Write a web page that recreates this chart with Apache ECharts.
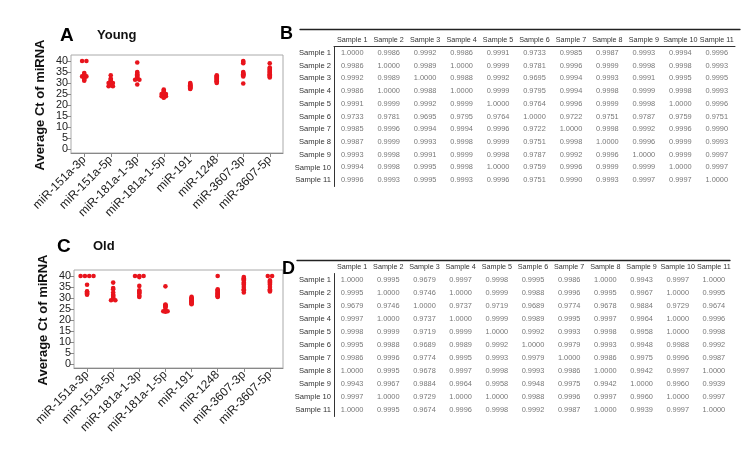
<!DOCTYPE html>
<html><head><meta charset="utf-8">
<script src="https://cdn.jsdelivr.net/npm/echarts@6/dist/echarts.min.js"></script>
<style>html,body{margin:0;padding:0;background:#fff}#c{width:750px;height:455px}</style>
</head><body><div id="c"></div><script>
// ---------- data ----------
const mirnas = ['miR-151a-3p','miR-151a-5p','miR-181a-1-3p','miR-181a-1-5p','miR-191','miR-1248','miR-3607-3p','miR-3607-5p'];
const sampleNames = ['Sample 1','Sample 2','Sample 3','Sample 4','Sample 5','Sample 6','Sample 7','Sample 8','Sample 9','Sample 10','Sample 11'];
// Average Ct per miRNA (11 samples each), young group
const youngCt = [
  [40, 40, 34.5, 34, 33.5, 33, 33, 32.5, 32, 31.5, 31],
  [33.5, 32, 31.5, 31, 30.5, 30, 30, 29.5, 29, 28.5, 28.5],
  [39.3, 35, 34.5, 34, 33.5, 33, 32.5, 32, 31.5, 31.5, 29.3],
  [27, 26.5, 26, 25.5, 25, 25, 24.5, 24, 24, 23.5, 23.3],
  [30, 29.5, 29.2, 29, 28.8, 28.5, 28.2, 28, 27.8, 27.5, 27.3],
  [33.5, 33, 32.8, 32.5, 32, 31.8, 31.5, 31, 30.8, 30.5, 30],
  [40, 39.5, 39, 35, 34.5, 34.2, 34, 33.8, 33.5, 33, 29.8],
  [39, 37, 36.5, 36, 35.5, 35, 34.5, 34, 33.5, 33, 32.5]
];
// Average Ct per miRNA (11 samples each), old group
const oldCt = [
  [40, 40, 40, 40, 36, 33, 32.8, 32.5, 32, 31.8, 31.5],
  [37, 34.5, 34, 32.5, 31.5, 31, 30.5, 30, 29.5, 29, 29],
  [40, 40, 40, 39.5, 35.5, 33.5, 33, 32.5, 32, 31, 30.5],
  [35.3, 27, 26.8, 26.5, 26.2, 26, 25.5, 24.2, 24, 24, 23.8],
  [30.5, 30, 29.8, 29.5, 29, 28.8, 28.5, 28.2, 28, 27.5, 27.2],
  [40, 34, 33.5, 33, 32.5, 32, 31.8, 31.5, 31, 30.8, 30.5],
  [39.5, 39, 38.5, 38, 37, 36.5, 36, 35, 34, 33.5, 32.5],
  [40, 40, 38, 37.5, 37, 36.5, 36, 35, 34, 33.5, 33]
];
// correlation matrix, young (B)
const youngCorr = [
  [1.0000,0.9986,0.9992,0.9986,0.9991,0.9733,0.9985,0.9987,0.9993,0.9994,0.9996],
  [0.9986,1.0000,0.9989,1.0000,0.9999,0.9781,0.9996,0.9999,0.9998,0.9998,0.9993],
  [0.9992,0.9989,1.0000,0.9988,0.9992,0.9695,0.9994,0.9993,0.9991,0.9995,0.9995],
  [0.9986,1.0000,0.9988,1.0000,0.9999,0.9795,0.9994,0.9998,0.9999,0.9998,0.9993],
  [0.9991,0.9999,0.9992,0.9999,1.0000,0.9764,0.9996,0.9999,0.9998,1.0000,0.9996],
  [0.9733,0.9781,0.9695,0.9795,0.9764,1.0000,0.9722,0.9751,0.9787,0.9759,0.9751],
  [0.9985,0.9996,0.9994,0.9994,0.9996,0.9722,1.0000,0.9998,0.9992,0.9996,0.9990],
  [0.9987,0.9999,0.9993,0.9998,0.9999,0.9751,0.9998,1.0000,0.9996,0.9999,0.9993],
  [0.9993,0.9998,0.9991,0.9999,0.9998,0.9787,0.9992,0.9996,1.0000,0.9999,0.9997],
  [0.9994,0.9998,0.9995,0.9998,1.0000,0.9759,0.9996,0.9999,0.9999,1.0000,0.9997],
  [0.9996,0.9993,0.9995,0.9993,0.9996,0.9751,0.9990,0.9993,0.9997,0.9997,1.0000]
];
// correlation matrix, old (D)
const oldCorr = [
  [1.0000,0.9995,0.9679,0.9997,0.9998,0.9995,0.9986,1.0000,0.9943,0.9997,1.0000],
  [0.9995,1.0000,0.9746,1.0000,0.9999,0.9988,0.9996,0.9995,0.9967,1.0000,0.9995],
  [0.9679,0.9746,1.0000,0.9737,0.9719,0.9689,0.9774,0.9678,0.9884,0.9729,0.9674],
  [0.9997,1.0000,0.9737,1.0000,0.9999,0.9989,0.9995,0.9997,0.9964,1.0000,0.9996],
  [0.9998,0.9999,0.9719,0.9999,1.0000,0.9992,0.9993,0.9998,0.9958,1.0000,0.9998],
  [0.9995,0.9988,0.9689,0.9989,0.9992,1.0000,0.9979,0.9993,0.9948,0.9988,0.9992],
  [0.9986,0.9996,0.9774,0.9995,0.9993,0.9979,1.0000,0.9986,0.9975,0.9996,0.9987],
  [1.0000,0.9995,0.9678,0.9997,0.9998,0.9993,0.9986,1.0000,0.9942,0.9997,1.0000],
  [0.9943,0.9967,0.9884,0.9964,0.9958,0.9948,0.9975,0.9942,1.0000,0.9960,0.9939],
  [0.9997,1.0000,0.9729,1.0000,1.0000,0.9988,0.9996,0.9997,0.9960,1.0000,0.9997],
  [1.0000,0.9995,0.9674,0.9996,0.9998,0.9992,0.9987,1.0000,0.9939,0.9997,1.0000]
];

// ---------- styling / layout ----------
const SANS = "'Liberation Sans', Arial, sans-serif";
const NARROW = "'Liberation Sans Narrow', 'Arial Narrow', 'Liberation Sans', Arial, sans-serif";
const RED = '#e8141c';
const DOT_GAP = 4.3;
const TXT = '#555';

function dots(ct) {
  const out = [];
  ct.forEach((vals, ci) => {
    const counts = {}, seen = {};
    vals.forEach(v => counts[v] = (counts[v] || 0) + 1);
    vals.forEach(v => {
      const n = counts[v], k = seen[v] || 0; seen[v] = k + 1;
      out.push({ value: [ci, v], symbolOffset: [(k - (n - 1) / 2) * DOT_GAP, 0] });
    });
  });
  return out;
}
function cells(m) {
  const out = [];
  m.forEach((row, r) => row.forEach((v, c) => out.push([c, r, v])));
  return out;
}

// plot frames: frame box extends 6px above 40 and 4px below 0 (88px for 0..40)
function plotGrids(left, top, width) {
  const pxPerUnit = 88 / 40;
  return {
    frame: { left, top, width, height: 98, show: true, borderColor: '#aaa', borderWidth: 1, outerBoundsMode: 'none' },
    inner: { left, top: top + 6, width, height: 88, outerBoundsMode: 'none' },
    yMin: -4 / pxPerUnit, yMax: 40 + 6 / pxPerUnit
  };
}
const pA = plotGrids(71, 55, 212);
const pC = plotGrids(74, 270, 209);

const hidden = (gi, type) => ({ gridIndex: gi, type: type || 'value', show: false });
function catX(gi) {
  return {
    gridIndex: gi, type: 'category', data: mirnas, position: 'bottom',
    axisLine: { show: true, onZero: false, lineStyle: { color: '#888' } },
    axisTick: { show: true, alignWithLabel: true, length: 4, lineStyle: { color: '#888' } },
    axisLabel: { rotate: 45, fontSize: 12, color: '#222', fontFamily: SANS, margin: 5, interval: 0 },
    splitLine: { show: false }
  };
}
function frameY(gi, p) { return { gridIndex: gi, type: 'value', show: false, min: p.yMin, max: p.yMax }; }
function labelY(gi) {
  return {
    gridIndex: gi, type: 'value', min: 0, max: 40, interval: 5,
    axisLine: { show: false },
    axisTick: { show: true, length: 4, lineStyle: { color: '#888' } },
    axisLabel: { fontSize: 10.8, color: '#222', fontFamily: SANS, margin: 3,
      showMinLabel: true, showMaxLabel: true, hideOverlap: false },
    splitLine: { show: false },
    name: 'Average Ct of miRNA', nameLocation: 'middle', nameRotate: 90, nameGap: 24,
    nameTextStyle: { fontSize: 13, fontWeight: 'bold', color: '#111', fontFamily: SANS }
  };
}
function ruleX(gi) {
  return { gridIndex: gi, type: 'value', position: 'top',
    axisLine: { show: true, onZero: false, lineStyle: { color: '#222', width: 1.3 } },
    axisTick: { show: false }, axisLabel: { show: false }, splitLine: { show: false } };
}
function tableX(gi, underline) {
  return { gridIndex: gi, type: 'category', data: sampleNames, position: 'top',
    axisLine: { show: underline, lineStyle: { color: '#333', width: 1 } },
    axisTick: { show: false },
    axisLabel: { fontSize: 7.2, color: '#333', fontFamily: NARROW, margin: 3, interval: 0, hideOverlap: false },
    splitLine: { show: false } };
}
function tableY(gi) {
  return { gridIndex: gi, type: 'category', data: sampleNames, inverse: true,
    axisLine: { show: true, lineStyle: { color: '#333', width: 1 } },
    axisTick: { show: false },
    axisLabel: { fontSize: 7.6, color: '#333', fontFamily: NARROW, margin: 3, interval: 0, hideOverlap: false },
    splitLine: { show: false } };
}
function tableSeries(xi, yi, m) {
  return { type: 'scatter', xAxisIndex: xi, yAxisIndex: yi, symbolSize: 0, silent: true,
    data: cells(m),
    label: { show: true, position: 'inside', fontSize: 7.4, color: TXT, fontFamily: NARROW,
      formatter: p => p.value[2].toFixed(4) } };
}

const option = {
  backgroundColor: '#fff',
  animation: false,
  grid: [
    pA.frame, pA.inner, pC.frame, pC.inner,
    { left: 300, top: 29, width: 440, height: 17, outerBoundsMode: 'none' },
    { left: 334, top: 46.5, width: 401, height: 140, outerBoundsMode: 'none' },
    { left: 297, top: 260, width: 433, height: 13, outerBoundsMode: 'none' },
    { left: 334, top: 273.5, width: 398, height: 143, outerBoundsMode: 'none' }
  ],
  xAxis: [ catX(0), hidden(1), catX(2), hidden(3), ruleX(4), tableX(5, true), ruleX(6), tableX(7, false) ],
  yAxis: [ frameY(0, pA), labelY(1), frameY(2, pC), labelY(3), hidden(4), tableY(5), hidden(6), tableY(7) ],
  series: [
    { type: 'scatter', xAxisIndex: 0, yAxisIndex: 0, symbol: 'circle', symbolSize: 4.6,
      itemStyle: { color: RED, opacity: 1 }, data: dots(youngCt) },
    { type: 'scatter', xAxisIndex: 2, yAxisIndex: 2, symbol: 'circle', symbolSize: 4.6,
      itemStyle: { color: RED, opacity: 1 }, data: dots(oldCt) },
    tableSeries(5, 5, youngCorr),
    tableSeries(7, 7, oldCorr)
  ],
  graphic: [
    { type: 'text', left: 60, top: 26, style: { text: 'A', font: "bold 19px 'Liberation Sans', Arial", fill: '#000' } },
    { type: 'text', left: 97, top: 29, style: { text: 'Young', font: "bold 13px 'Liberation Sans', Arial", fill: '#111' } },
    { type: 'text', left: 280, top: 25, style: { text: 'B', font: "bold 18px 'Liberation Sans', Arial", fill: '#000' } },
    { type: 'text', left: 57, top: 237, style: { text: 'C', font: "bold 19px 'Liberation Sans', Arial", fill: '#000' } },
    { type: 'text', left: 93, top: 240, style: { text: 'Old', font: "bold 13px 'Liberation Sans', Arial", fill: '#111' } },
    { type: 'text', left: 282, top: 260, style: { text: 'D', font: "bold 18px 'Liberation Sans', Arial", fill: '#000' } }
  ]
};
const chart = echarts.init(document.getElementById('c'), null, { renderer: 'canvas' });
chart.setOption(option);
</script></body></html>
